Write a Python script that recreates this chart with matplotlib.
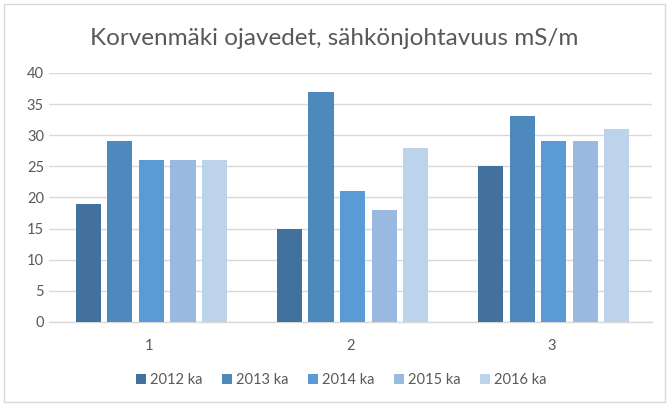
import numpy as np
import matplotlib.pyplot as plt
from matplotlib.patches import Rectangle

# data
categories = ['1', '2', '3']
series = ['2012 ka', '2013 ka', '2014 ka', '2015 ka', '2016 ka']
v2012 = [19, 15, 25]
v2013 = [29, 37, 33]
v2014 = [26, 21, 29]
v2015 = [26, 18, 29]
v2016 = [26, 28, 31]
values = [v2012, v2013, v2014, v2015, v2016]
colors = ['#41719C', '#4E89BD', '#5B9BD5', '#9AB9E0', '#BDD3EC']

plt.rcParams['font.family'] = ['Lato', 'DejaVu Sans']

fig = plt.figure(figsize=(6.69, 4.05), dpi=100)
ax = fig.add_axes([0.073, 0.205, 0.902, 0.615])

x = np.arange(len(categories))
pitch = 0.157
width = 0.125
for i, (name, vals) in enumerate(zip(series, values)):
    ax.bar(x + (i - 2) * pitch + 0.01, vals, width, color=colors[i], label=name, zorder=3)

ax.set_xlim(-0.5, 2.5)
ax.set_ylim(0, 40)
ax.set_yticks(range(0, 41, 5))
ax.set_xticks(x)
ax.set_xticklabels(categories)
ax.grid(axis='y', color='#D9D9D9', linewidth=1, zorder=0)
for s in ['top', 'right', 'left']:
    ax.spines[s].set_visible(False)
ax.spines['bottom'].set_color('#D9D9D9')
ax.spines['bottom'].set_linewidth(1)
ax.tick_params(length=0, colors='#595959', labelsize=10.5)
ax.tick_params(axis='x', pad=12)

fig.text(0.5, 0.905, 'Korvenmäki ojavedet, sähkönjohtavuus mS/m',
         ha='center', va='center', fontsize=17.5, color='#595959')

leg = fig.legend(loc='center', bbox_to_anchor=(0.51, 0.062), ncol=5, frameon=False,
                 fontsize=10.5, handlelength=0.7, handleheight=0.7,
                 handletextpad=0.3, columnspacing=1.3)
for t in leg.get_texts():
    t.set_color('#595959')

fig.patches.append(Rectangle((0.006, 0.008), 0.988, 0.982, transform=fig.transFigure,
                             fill=False, edgecolor='#D9D9D9', linewidth=1))

fig.savefig('out.png', dpi=100)
